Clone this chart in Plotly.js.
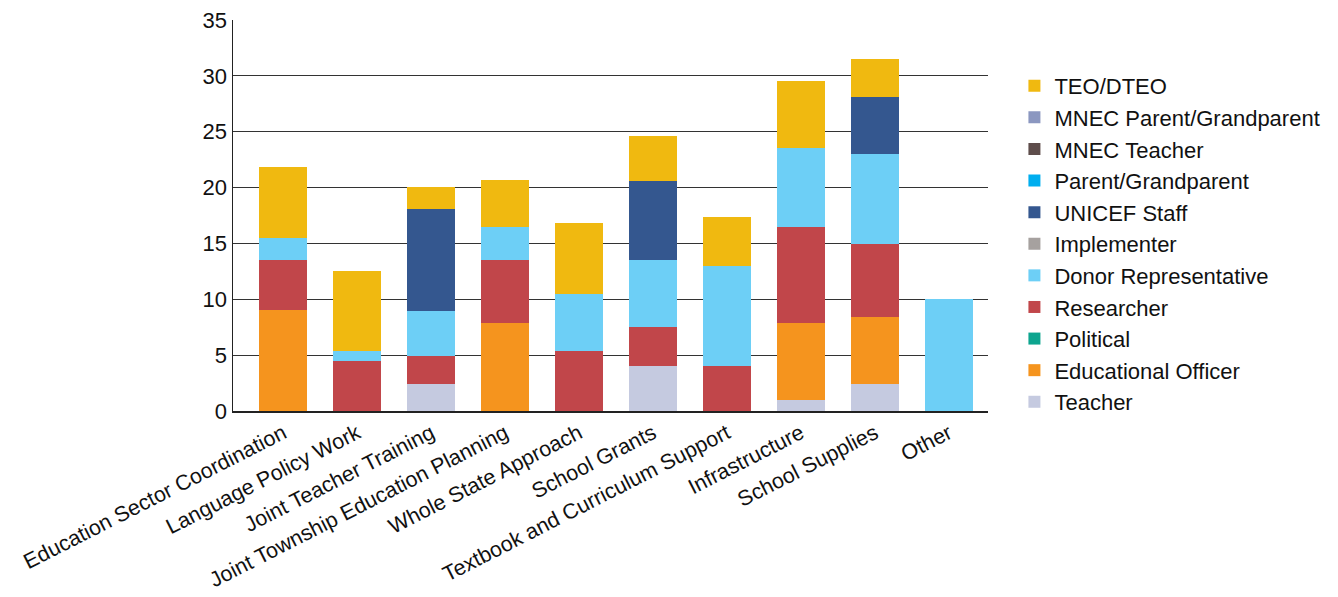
<!DOCTYPE html>
<html>
<head>
<meta charset="utf-8">
<script src="https://cdn.plot.ly/plotly-3.0.1.min.js"></script>
<style>
  html, body { margin: 0; padding: 0; background: #fff; }
  #chart { width: 1338px; height: 597px; }
</style>
</head>
<body>
<div id="chart"></div>
<script>
// Focus areas on the x axis
const categories = [
  'Education Sector Coordination', 'Language Policy Work', 'Joint Teacher Training',
  'Joint Township Education Planning', 'Whole State Approach', 'School Grants',
  'Textbook and Curriculum Support', 'Infrastructure', 'School Supplies', 'Other'
];

// Stakeholder groups, bottom of the stack first
const teacher        = [0, 0, 2.4, 0, 0, 4.0, 0, 1.0, 2.4, 0];
const eduOfficer     = [9.0, 0, 0, 7.9, 0, 0, 0, 6.9, 6.05, 0];
const political      = [0, 0, 0, 0, 0, 0, 0, 0, 0, 0];
const researcher     = [4.5, 4.5, 2.5, 5.6, 5.4, 3.5, 4.0, 8.6, 6.5, 0];
const donorRep       = [2.0, 0.9, 4.05, 3.0, 5.1, 6.05, 9.0, 7.05, 8.1, 10.0];
const implementer    = [0, 0, 0, 0, 0, 0, 0, 0, 0, 0];
const unicefStaff    = [0, 0, 9.1, 0, 0, 7.0, 0, 0, 5.1, 0];
const parentGrand    = [0, 0, 0, 0, 0, 0, 0, 0, 0, 0];
const mnecTeacher    = [0, 0, 0, 0, 0, 0, 0, 0, 0, 0];
const mnecParent     = [0, 0, 0, 0, 0, 0, 0, 0, 0, 0];
const teoDteo        = [6.3, 7.1, 2.0, 4.2, 6.3, 4.1, 4.4, 6.0, 3.4, 0];

const seriesNames = [
  'Teacher', 'Educational Officer', 'Political', 'Researcher', 'Donor Representative',
  'Implementer', 'UNICEF Staff', 'Parent/Grandparent', 'MNEC\u00a0Teacher',
  'MNEC Parent/Grandparent', 'TEO/DTEO'
];
const seriesValues = [
  teacher, eduOfficer, political, researcher, donorRep,
  implementer, unicefStaff, parentGrand, mnecTeacher, mnecParent, teoDteo
];
const seriesColors = [
  '#c5cae0', '#f5941e', '#0da58f', '#c1464a', '#6dcff6',
  '#a6a19f', '#34578f', '#00aeef', '#5e4d4b', '#8b97c0', '#f0b910'
];

const yTicks = [0, 5, 10, 15, 20, 25, 30, 35];

// Legend lists the top of the stack first
const traces = seriesNames.map((name, i) => ({
  type: 'bar',
  name: name,
  x: categories,
  y: seriesValues[i],
  legendgroup: 'g' + i,
  legendrank: 100 - i,
  marker: { color: seriesColors[i], line: { width: 0 } },
  hoverinfo: 'x+y+name'
}));

const font = 'Liberation Sans, Arial, sans-serif';

const layout = {
  width: 1338,
  height: 597,
  barmode: 'stack',
  bargap: 0.35,
  paper_bgcolor: '#ffffff',
  plot_bgcolor: '#ffffff',
  margin: { l: 233, r: 350, t: 20, b: 186 },
  font: { family: font, color: '#111111' },
  showlegend: true,
  legend: {
    x: 1.035, xanchor: 'left',
    y: 0.885, yanchor: 'top',
    traceorder: 'grouped',
    tracegroupgap: 0,
    font: { family: font, size: 22, color: '#111111' },
    itemwidth: 30,
    bgcolor: 'rgba(0,0,0,0)'
  },
  xaxis: {
    type: 'category',
    range: [-0.68, 9.53],
    tickangle: -27,
    tickfont: { family: font, size: 21.5, color: '#111111' },
    showgrid: false,
    showline: true,
    linecolor: '#222222',
    linewidth: 1.5,
    ticks: '',
    fixedrange: true
  },
  yaxis: {
    range: [0, 35],
    tickvals: yTicks,
    ticktext: yTicks.map(String),
    tickfont: { family: font, size: 22, color: '#111111' },
    showgrid: true,
    gridcolor: '#333333',
    gridwidth: 1,
    showline: true,
    linecolor: '#222222',
    linewidth: 1.5,
    zeroline: false,
    ticks: '',
    ticklen: 0,
    fixedrange: true
  }
};

Plotly.newPlot('chart', traces, layout, { displayModeBar: false, staticPlot: true });
</script>
</body>
</html>
